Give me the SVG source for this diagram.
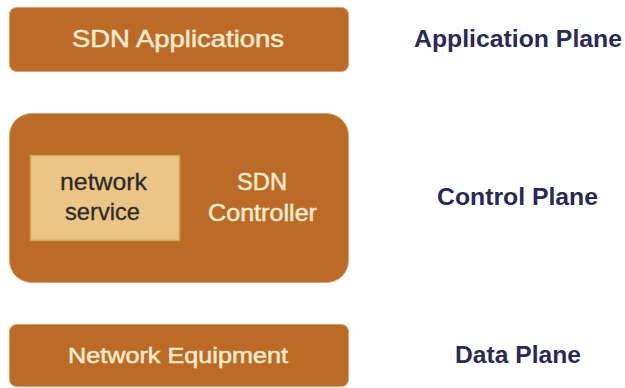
<svg xmlns="http://www.w3.org/2000/svg" width="625" height="388" viewBox="0 0 625 388">
  <style>
    .box { fill: #BC6B27; stroke: #D9A26E; stroke-width: 1; }
    .inner { fill: #EBC585; stroke: #C9A84F; stroke-width: 1.5; }
    .lbl { font-family: "Liberation Sans", Arial, sans-serif; font-size: 24px; text-anchor: middle; }
    .light { fill: #F8EBCF; stroke: #F8EBCF; stroke-width: 0.5; }
    .dark { fill: #2B2A2A; stroke: #2B2A2A; stroke-width: 0.3; }
    .plane { fill: #2A2A55; font-weight: bold; font-size: 23px; }
  </style>
  <rect width="625" height="388" fill="#FFFFFF"/>
  <g id="sdn-applications">
    <rect class="box" x="9.5" y="7.5" width="339" height="64" rx="7"/>
    <text class="lbl light" x="178" y="47" textLength="212" lengthAdjust="spacingAndGlyphs">SDN Applications</text>
  </g>
  <g id="sdn-controller">
    <rect class="box" x="9.5" y="113.5" width="339" height="169" rx="22"/>
    <text class="lbl light" x="262" y="190" textLength="50" lengthAdjust="spacingAndGlyphs">SDN</text>
    <text class="lbl light" x="262.5" y="221" textLength="109" lengthAdjust="spacingAndGlyphs">Controller</text>
  </g>
  <g id="network-service">
    <rect class="inner" x="30.5" y="155.5" width="149" height="85"/>
    <text class="lbl dark" x="103.5" y="190" textLength="87" lengthAdjust="spacingAndGlyphs">network</text>
    <text class="lbl dark" x="102.5" y="220" textLength="75" lengthAdjust="spacingAndGlyphs">service</text>
  </g>
  <g id="network-equipment">
    <rect class="box" x="9.5" y="324.5" width="339" height="62" rx="7"/>
    <text class="lbl light" x="178" y="363" style="font-size:22px" textLength="220" lengthAdjust="spacingAndGlyphs">Network Equipment</text>
  </g>
  <g id="application-plane">
    <text class="lbl plane" x="518" y="47" textLength="208" lengthAdjust="spacingAndGlyphs">Application Plane</text>
  </g>
  <g id="control-plane">
    <text class="lbl plane" x="517.5" y="205" textLength="161" lengthAdjust="spacingAndGlyphs">Control Plane</text>
  </g>
  <g id="data-plane">
    <text class="lbl plane" x="518" y="363" textLength="126" lengthAdjust="spacingAndGlyphs">Data Plane</text>
  </g>
  <g id="connectors"/>
</svg>
